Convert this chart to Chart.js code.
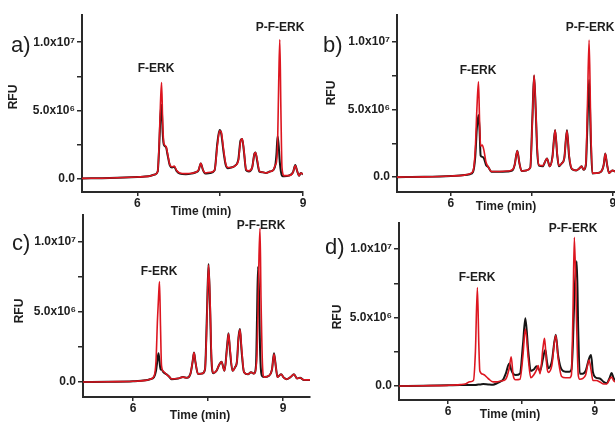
<!DOCTYPE html>
<html>
<head>
<meta charset="utf-8">
<script src="https://cdn.jsdelivr.net/npm/chart.js@4.4.1/dist/chart.umd.min.js"></script>
<style>
  html, body { margin: 0; padding: 0; background: #fff; }
  #wrap { position: relative; width: 615px; height: 423px; overflow: hidden; }
  #wrap canvas { position: absolute; }
</style>
</head>
<body>
<div id="wrap">
  <canvas id="pa" width="312" height="222" style="left:0;top:0"></canvas>
  <canvas id="pb" width="305" height="222" style="left:310px;top:0"></canvas>
  <canvas id="pc" width="312" height="215" style="left:0;top:208px"></canvas>
  <canvas id="pd" width="305" height="215" style="left:310px;top:208px"></canvas>
</div>
<script>
// tick values and labels (RFU in units of 10^6)
const yTickValues = [0, 2.5, 5, 7.5, 10];
const yTickLabels = ['0.0', '', '5.0x10\u2076', '', '1.0x10\u2077'];
const xTickValues = [6, 7.5, 9];
const xTickLabels = ['6', '', '9'];

// panel a) time (min), black trace, red trace (x10^6 RFU)
const aTime = [5.00, 5.50, 6.00, 6.20, 6.32, 6.37, 6.40, 6.42, 6.44, 6.46,
  6.48, 6.52, 6.55, 6.59, 6.63, 6.67, 6.71, 6.77, 6.88, 6.98,
  7.06, 7.11, 7.15, 7.19, 7.23, 7.32, 7.40, 7.45, 7.49, 7.52,
  7.56, 7.60, 7.64, 7.70, 7.76, 7.83, 7.87, 7.90, 7.93, 7.97,
  8.02, 8.08, 8.12, 8.14, 8.17, 8.21, 8.27, 8.33, 8.40, 8.46,
  8.50, 8.52, 8.54, 8.56, 8.58, 8.60, 8.62, 8.66, 8.74, 8.82,
  8.86, 8.89, 8.93, 8.96, 9.00];
const aBlack = [0.00, 0.03, 0.10, 0.15, 0.28, 0.50, 2.60, 4.60, 5.40, 3.40,
  2.50, 2.30, 1.70, 0.95, 0.80, 0.85, 0.55, 0.35, 0.30, 0.35,
  0.45, 0.60, 1.10, 0.60, 0.35, 0.40, 0.60, 2.60, 3.55, 3.30,
  2.00, 1.00, 0.75, 0.80, 0.90, 1.40, 2.80, 2.90, 2.00, 0.60,
  0.50, 0.80, 1.80, 1.90, 1.30, 0.50, 0.45, 0.40, 0.50, 0.60,
  1.00, 1.80, 3.10, 2.40, 1.20, 0.50, 0.20, 0.15, 0.20, 0.45,
  0.98, 0.60, 0.20, 0.40, 0.30];
const aRed = [0.00, 0.03, 0.10, 0.15, 0.28, 0.50, 3.00, 5.50, 7.04, 4.20,
  2.60, 2.35, 1.80, 1.00, 0.85, 0.90, 0.60, 0.40, 0.35, 0.38,
  0.45, 0.62, 1.10, 0.62, 0.40, 0.45, 0.60, 2.40, 3.50, 3.40,
  2.20, 1.10, 0.80, 0.80, 0.90, 1.30, 2.70, 2.90, 2.10, 0.65,
  0.55, 0.80, 1.80, 1.90, 1.40, 0.55, 0.45, 0.40, 0.50, 0.60,
  1.00, 1.20, 2.50, 7.00, 10.2, 5.00, 0.80, 0.20, 0.20, 0.45,
  0.95, 0.60, 0.20, 0.40, 0.30];

// panel b)
const bTime = [5.00, 5.50, 6.00, 6.25, 6.35, 6.41, 6.45, 6.48, 6.51, 6.53,
  6.55, 6.58, 6.61, 6.65, 6.69, 6.75, 6.90, 7.05, 7.14, 7.18,
  7.23, 7.27, 7.31, 7.40, 7.47, 7.51, 7.54, 7.57, 7.60, 7.63,
  7.70, 7.75, 7.78, 7.83, 7.88, 7.93, 7.97, 8.00, 8.05, 8.10,
  8.15, 8.19, 8.24, 8.32, 8.38, 8.42, 8.46, 8.50, 8.53, 8.56,
  8.59, 8.62, 8.70, 8.78, 8.83, 8.86, 8.89, 8.93, 8.99, 9.05];
const bBlack = [0.00, 0.02, 0.08, 0.15, 0.22, 0.40, 1.50, 3.60, 4.60, 3.50,
  1.60, 1.50, 1.40, 0.90, 0.76, 0.40, 0.40, 0.42, 0.50, 0.90,
  1.95, 1.00, 0.45, 0.50, 0.70, 4.50, 7.50, 5.00, 1.80, 0.85,
  0.80, 1.20, 1.38, 0.80, 1.50, 3.48, 1.60, 0.80, 1.00, 1.40,
  3.48, 1.50, 0.60, 0.50, 0.65, 0.80, 0.55, 0.90, 4.00, 7.20,
  3.00, 0.27, 0.30, 0.40, 0.90, 1.75, 1.00, 0.30, 0.50, 0.40];
const bRed = [0.00, 0.02, 0.08, 0.15, 0.25, 0.45, 2.00, 5.00, 7.06, 4.20,
  2.30, 2.37, 2.00, 1.10, 0.76, 0.42, 0.42, 0.45, 0.55, 0.90,
  1.95, 1.00, 0.45, 0.50, 0.70, 4.30, 7.55, 5.20, 2.00, 0.90,
  0.85, 1.20, 1.38, 0.80, 1.40, 3.48, 1.70, 0.85, 1.00, 1.40,
  3.45, 1.60, 0.62, 0.50, 0.65, 0.80, 0.55, 1.00, 5.50, 10.15,
  4.00, 0.30, 0.30, 0.40, 0.90, 1.75, 1.00, 0.30, 0.50, 0.40];

// panel c)
const cTime = [5.00, 5.50, 6.00, 6.25, 6.34, 6.42, 6.46, 6.49, 6.51, 6.53,
  6.55, 6.57, 6.61, 6.67, 6.72, 6.77, 6.90, 7.00, 7.08, 7.15,
  7.19, 7.22, 7.25, 7.30, 7.38, 7.44, 7.48, 7.51, 7.54, 7.57,
  7.61, 7.67, 7.72, 7.77, 7.83, 7.88, 7.91, 7.94, 7.99, 8.04,
  8.08, 8.11, 8.14, 8.17, 8.22, 8.30, 8.36, 8.42, 8.46, 8.48,
  8.50, 8.52, 8.54, 8.56, 8.59, 8.62, 8.72, 8.78, 8.82, 8.86,
  8.89, 8.96, 9.02, 9.07, 9.15, 9.22, 9.28, 9.34, 9.42, 9.54];
const cBlack = [0.00, 0.02, 0.05, 0.12, 0.20, 0.35, 0.80, 1.60, 2.05, 1.50,
  0.90, 0.90, 0.70, 0.55, 0.40, 0.20, 0.25, 0.35, 0.30, 0.60,
  1.40, 2.10, 1.40, 0.58, 0.60, 0.90, 5.00, 8.43, 5.50, 1.50,
  0.63, 0.80, 1.20, 1.45, 0.80, 2.50, 3.48, 2.20, 0.80, 1.05,
  1.50, 3.20, 3.79, 2.30, 0.70, 0.55, 0.70, 0.60, 1.20, 4.50,
  8.24, 6.50, 2.50, 0.80, 0.40, 0.35, 0.45, 0.90, 2.05, 1.00,
  0.35, 0.55, 0.30, 0.20, 0.35, 0.55, 0.25, 0.30, 0.15, 0.15];
const cRed = [0.00, 0.02, 0.05, 0.12, 0.20, 0.40, 1.50, 4.50, 6.00, 7.17,
  4.00, 1.20, 0.75, 0.55, 0.40, 0.22, 0.25, 0.35, 0.30, 0.60,
  1.40, 2.10, 1.40, 0.58, 0.60, 0.90, 4.60, 8.35, 6.00, 1.80,
  0.65, 0.80, 1.20, 1.45, 0.80, 2.40, 3.45, 2.40, 0.80, 1.05,
  1.50, 3.10, 3.75, 2.50, 0.70, 0.55, 0.70, 0.60, 1.00, 2.00,
  5.00, 9.00, 10.98, 6.00, 1.20, 0.35, 0.45, 0.90, 2.00, 1.00,
  0.35, 0.55, 0.30, 0.20, 0.35, 0.55, 0.25, 0.30, 0.15, 0.15];

// panel d)
const dTime = [5.00, 5.50, 6.00, 6.25, 6.35, 6.45, 6.52, 6.56, 6.60, 6.63,
  6.65, 6.72, 6.82, 6.92, 7.00, 7.06, 7.13, 7.18, 7.25, 7.29,
  7.33, 7.38, 7.47, 7.53, 7.58, 7.64, 7.69, 7.75, 7.81, 7.84,
  7.88, 7.94, 7.97, 7.99, 8.02, 8.05, 8.12, 8.20, 8.25, 8.32,
  8.40, 8.48, 8.52, 8.55, 8.58, 8.63, 8.66, 8.69, 8.75, 8.81,
  8.88, 8.92, 8.96, 9.03, 9.10, 9.18, 9.24, 9.30, 9.34, 9.38, 9.41];
const dBlack = [0.00, 0.02, 0.05, 0.07, 0.07, 0.07, 0.08, 0.08, 0.10, 0.12,
  0.12, 0.15, 0.12, 0.10, 0.20, 0.30, 0.50, 0.90, 1.65, 1.20,
  0.90, 0.80, 0.90, 3.00, 4.94, 2.50, 1.10, 1.20, 1.45, 1.30,
  1.10, 2.00, 2.50, 2.63, 1.80, 1.30, 1.80, 3.75, 2.20, 1.20,
  1.05, 1.05, 1.20, 3.00, 6.50, 9.10, 4.00, 0.90, 0.90, 1.10,
  2.00, 2.26, 1.00, 0.60, 0.55, 0.30, 0.20, 0.60, 0.95, 0.60, 0.40];
const dRed = [0.00, 0.02, 0.05, 0.10, 0.15, 0.31, 0.40, 2.50, 7.18, 3.00,
  1.10, 0.85, 0.55, 0.30, 0.30, 0.35, 0.40, 0.50, 1.30, 2.14,
  0.80, 0.46, 0.50, 2.20, 4.16, 2.00, 0.60, 0.80, 1.20, 1.50,
  0.90, 2.80, 3.48, 2.80, 1.40, 1.00, 1.50, 3.70, 2.00, 0.70,
  0.60, 0.60, 0.80, 5.00, 10.85, 4.00, 0.80, 0.50, 0.55, 0.80,
  1.90, 1.20, 0.40, 0.40, 0.30, 0.15, 0.15, 0.50, 0.65, 0.40, 0.30];

const FONT = "'Liberation Sans', Arial, sans-serif";
const INK = '#1e1e1e';
const RED = '#dd1620';
const BLACK = '#151515';

function pairs(xs, ys) {
  return xs.map((x, i) => ({ x: x, y: ys[i] }));
}

function textLayer(items) {
  return {
    id: 'textLayer',
    afterDraw(chart) {
      const ctx = chart.ctx;
      items.forEach(it => {
        ctx.save();
        ctx.fillStyle = INK;
        ctx.font = it.font || ('bold 12px ' + FONT);
        ctx.textAlign = it.align || 'center';
        ctx.textBaseline = it.baseline || 'middle';
        ctx.translate(it.x, it.y);
        if (it.rot) ctx.rotate(it.rot);
        ctx.fillText(it.text, 0, 0);
        ctx.restore();
      });
    }
  };
}

function makePanel(id, p) {
  new Chart(document.getElementById(id), {
    type: 'line',
    data: {
      datasets: [
        { data: pairs(p.time, p.red), borderColor: RED, borderWidth: 1.6 },
        { data: pairs(p.time, p.black), borderColor: BLACK, borderWidth: 2 }
      ]
    },
    options: {
      responsive: false,
      animation: false,
      layout: { padding: { left: 0, top: p.top, right: p.right, bottom: 0 } },
      elements: {
        point: { radius: 0 },
        line: { cubicInterpolationMode: 'monotone' }
      },
      plugins: { legend: { display: false }, tooltip: { enabled: false } },
      scales: {
        x: {
          type: 'linear',
          min: p.xMin, max: p.xMax,
          border: { display: true, color: '#2a2a2a', width: 2 },
          grid: { drawOnChartArea: false, tickLength: 4, color: '#2a2a2a', lineWidth: 1.5 },
          ticks: {
            autoSkip: false, maxRotation: 0, padding: 0, color: INK,
            font: { family: FONT, size: 12, weight: 'bold' },
            callback: (v) => xTickLabels[xTickValues.indexOf(v)] ?? ''
          },
          afterBuildTicks: (s) => { s.ticks = xTickValues.map(v => ({ value: v })); },
          afterFit: (s) => { s.height = p.xHeight; s.paddingLeft = 0; s.paddingRight = 0; }
        },
        y: {
          min: p.yMin, max: p.yMax,
          border: { display: true, color: '#2a2a2a', width: 2 },
          grid: { drawOnChartArea: false, tickLength: 5, color: '#2a2a2a', lineWidth: 1.5 },
          ticks: {
            padding: 2, color: INK,
            font: { family: FONT, size: 12, weight: 'bold' },
            callback: (v) => yTickLabels[yTickValues.indexOf(v)] ?? ''
          },
          afterBuildTicks: (s) => { s.ticks = yTickValues.map(v => ({ value: v })); },
          afterFit: (s) => { s.width = p.yWidth; s.paddingTop = 0; s.paddingBottom = 0; }
        }
      }
    },
    plugins: [textLayer(p.text)]
  });
}

const LETTER = '22px ' + FONT;
const UP = -Math.PI / 2;

makePanel('pa', {
  time: aTime, black: aBlack, red: aRed,
  xMin: 5, xMax: 9.0, yMin: -1.0, yMax: 12.0,
  top: 15, right: 9, yWidth: 82, xHeight: 30,
  text: [
    { text: 'a)', x: 11, y: 52, font: LETTER, align: 'left', baseline: 'alphabetic' },
    { text: 'F-ERK', x: 156, y: 69 },
    { text: 'P-F-ERK', x: 280, y: 28 },
    { text: 'RFU', x: 14, y: 97, rot: UP },
    { text: 'Time (min)', x: 201, y: 212 }
  ]
});

makePanel('pb', {
  time: bTime, black: bBlack, red: bRed,
  xMin: 5, xMax: 9.04, yMin: -1.1, yMax: 12.0,
  top: 15, right: 0, yWidth: 87, xHeight: 30,
  text: [
    { text: 'b)', x: 13, y: 52, font: LETTER, align: 'left', baseline: 'alphabetic' },
    { text: 'F-ERK', x: 168, y: 71 },
    { text: 'P-F-ERK', x: 280, y: 28 },
    { text: 'RFU', x: 22, y: 93, rot: UP },
    { text: 'Time (min)', x: 196, y: 207 }
  ]
});

makePanel('pc', {
  time: cTime, black: cBlack, red: cRed,
  xMin: 5, xMax: 9.54, yMin: -1.07, yMax: 11.93,
  top: 7, right: 2, yWidth: 83, xHeight: 26,
  text: [
    { text: 'c)', x: 12, y: 42, font: LETTER, align: 'left', baseline: 'alphabetic' },
    { text: 'F-ERK', x: 159, y: 64 },
    { text: 'P-F-ERK', x: 261, y: 18 },
    { text: 'RFU', x: 20, y: 103, rot: UP },
    { text: 'Time (min)', x: 200, y: 208 }
  ]
});

makePanel('pd', {
  time: dTime, black: dBlack, red: dRed,
  xMin: 5, xMax: 9.41, yMin: -1.02, yMax: 11.9,
  top: 15, right: 0, yWidth: 89, xHeight: 23,
  text: [
    { text: 'd)', x: 15, y: 46, font: LETTER, align: 'left', baseline: 'alphabetic' },
    { text: 'F-ERK', x: 167, y: 70 },
    { text: 'P-F-ERK', x: 263, y: 21 },
    { text: 'RFU', x: 28, y: 109, rot: UP },
    { text: 'Time (min)', x: 200, y: 207 }
  ]
});
</script>
</body>
</html>
